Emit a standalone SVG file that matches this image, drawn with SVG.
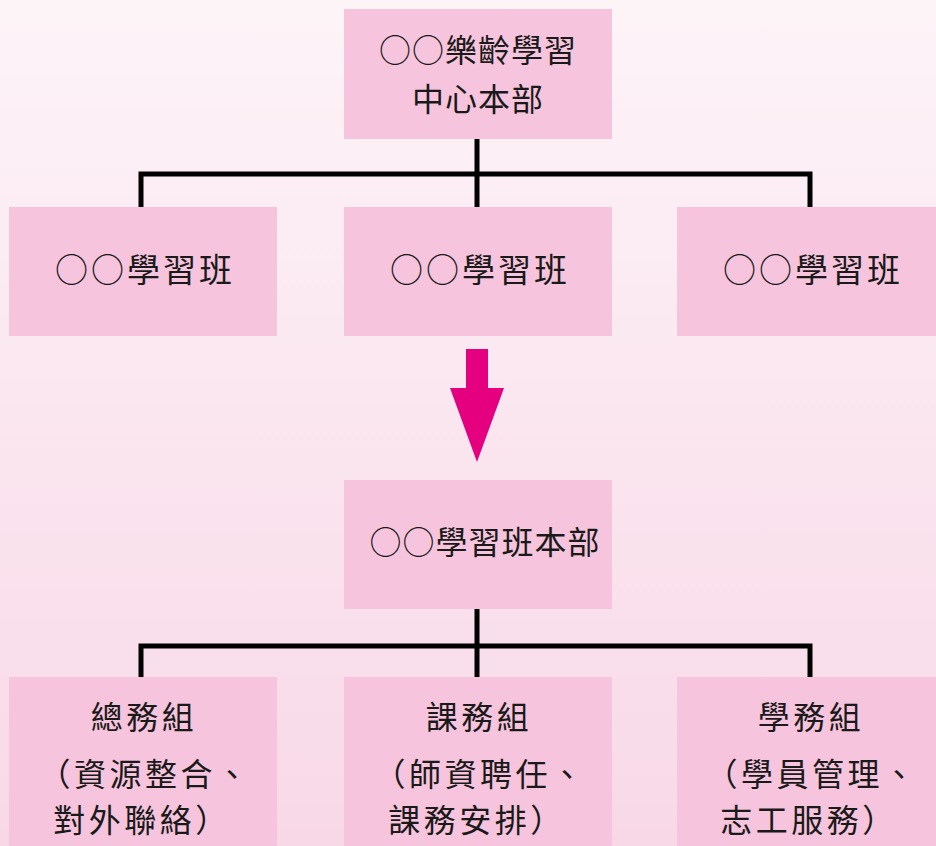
<svg xmlns="http://www.w3.org/2000/svg" width="936" height="846" viewBox="0 0 936 846">
<defs>
<linearGradient id="bg" x1="0" y1="0" x2="0" y2="1">
<stop offset="0" stop-color="#fdf4f8"/>
<stop offset="1" stop-color="#f8d8e7"/>
</linearGradient>
<style>
.box{fill:#f6c4dc}
.t{font-family:"Noto Sans CJK TC","Noto Sans CJK JP",sans-serif;font-size:32px;fill:#1a1a1a;text-anchor:middle;dominant-baseline:central}
.mid{font-size:33px;letter-spacing:3px}
.sub{letter-spacing:3.5px}
.line{fill:none;stroke:#000;stroke-width:5}
</style>
</defs>
<rect width="936" height="846" fill="url(#bg)"/>
<g id="connectors">
<path class="line" d="M477,139 V207 M141,207 V174 H810 V207"/>
<path class="line" d="M477,609 V677 M141,677 V646 H810 V677"/>
<path d="M466,349 H488 V388 H504 L477,462 L450,388 H466 Z" fill="#e4007f"/>
</g>
<g id="hq">
<rect class="box" x="344" y="9" width="268" height="130"/>
<text class="t" x="478" y="48" letter-spacing="1">○○樂齡學習</text>
<text class="t" x="478" y="97" letter-spacing="1">中心本部</text>
</g>
<g id="class1">
<rect class="box" x="9" y="207" width="268" height="129"/>
<text class="t mid" x="145" y="268">○○學習班</text>
</g>
<g id="class2">
<rect class="box" x="344" y="207" width="268" height="129"/>
<text class="t mid" x="480" y="268">○○學習班</text>
</g>
<g id="class3">
<rect class="box" x="677" y="207" width="268" height="129"/>
<text class="t mid" x="813" y="268">○○學習班</text>
</g>
<g id="classhq">
<rect class="box" x="344" y="480" width="268" height="129"/>
<text class="t" x="485" y="540" letter-spacing="1">○○學習班本部</text>
</g>
<g id="general">
<rect class="box" x="9" y="677" width="268" height="180"/>
<text class="t sub" x="144" y="715">總務組</text>
<text class="t sub" x="145" y="772">（資源整合、</text>
<text class="t sub" x="142" y="818">對外聯絡）</text>
</g>
<g id="course">
<rect class="box" x="344" y="677" width="268" height="180"/>
<text class="t sub" x="479" y="715">課務組</text>
<text class="t sub" x="480" y="772">（師資聘任、</text>
<text class="t sub" x="477" y="818">課務安排）</text>
</g>
<g id="student">
<rect class="box" x="677" y="677" width="268" height="180"/>
<text class="t sub" x="811" y="715">學務組</text>
<text class="t sub" x="812" y="772">（學員管理、</text>
<text class="t sub" x="809" y="818">志工服務）</text>
</g>
</svg>
